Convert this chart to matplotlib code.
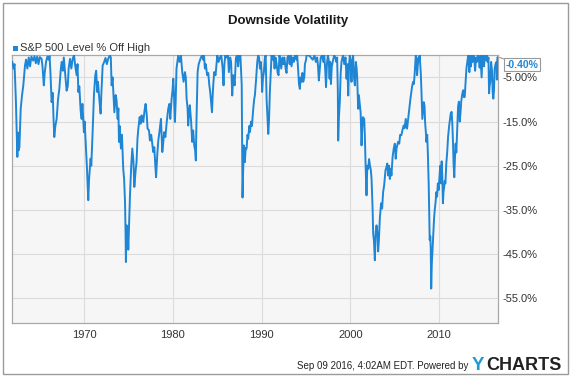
import matplotlib.pyplot as plt
from matplotlib.patches import Rectangle

plt.rcParams['font.family'] = ['Liberation Sans', 'DejaVu Sans']

# S&P 500 level, % off its running high (decimal years)
years = [
    1961.90, 1962.05, 1962.15, 1962.30, 1962.40, 1962.47, 1962.55, 1962.62, 1962.70, 1962.85,
    1963.00, 1963.14, 1963.33, 1963.45, 1963.60, 1963.75, 1963.90,
    1964.05, 1964.25, 1964.40, 1964.55, 1964.70, 1964.85,
    1965.00, 1965.20, 1965.30, 1965.45, 1965.55, 1965.70, 1965.85,
    1966.00, 1966.10, 1966.20, 1966.33, 1966.45, 1966.55, 1966.63, 1966.75, 1966.90,
    1967.05, 1967.20, 1967.35, 1967.46, 1967.60, 1967.70, 1967.85,
    1968.02, 1968.15, 1968.25, 1968.40, 1968.55, 1968.70, 1968.85,
    1969.00, 1969.15, 1969.25, 1969.34, 1969.45, 1969.60, 1969.71, 1969.80, 1969.97,
    1970.05, 1970.20, 1970.30, 1970.40, 1970.46, 1970.55, 1970.72, 1970.80, 1970.95,
    1971.10, 1971.25, 1971.35, 1971.47, 1971.55, 1971.70, 1971.85, 1971.95,
    1972.08, 1972.25, 1972.40, 1972.55, 1972.70, 1972.90,
    1973.00, 1973.09, 1973.20, 1973.40, 1973.55, 1973.65, 1973.77, 1973.85, 1973.92,
    1974.00, 1974.14, 1974.25, 1974.40, 1974.50, 1974.60, 1974.66, 1974.70, 1974.78, 1974.86, 1974.92, 1974.97,
    1975.10, 1975.16, 1975.30, 1975.42, 1975.55, 1975.65, 1975.80, 1975.90,
    1976.00, 1976.10, 1976.25, 1976.35, 1976.47, 1976.55, 1976.66, 1976.80, 1976.92,
    1977.05, 1977.14, 1977.30, 1977.41, 1977.55, 1977.70, 1977.78, 1977.90,
    1978.00, 1978.10, 1978.25, 1978.35, 1978.50, 1978.65, 1978.80, 1978.90,
    1979.00, 1979.15, 1979.30, 1979.47, 1979.60, 1979.70, 1979.85, 1979.95,
    1980.04, 1980.12, 1980.22, 1980.30, 1980.40, 1980.50, 1980.60, 1980.75, 1980.90,
    1981.05, 1981.20, 1981.35, 1981.45, 1981.54, 1981.65, 1981.72, 1981.82, 1981.90,
    1982.05, 1982.17, 1982.28, 1982.40, 1982.50, 1982.58, 1982.65, 1982.78, 1982.90,
    1983.04, 1983.15, 1983.30, 1983.40, 1983.50, 1983.60, 1983.70, 1983.85, 1983.98,
    1984.10, 1984.20, 1984.30, 1984.40, 1984.48, 1984.54, 1984.65, 1984.80,
    1985.00, 1985.15, 1985.30, 1985.45, 1985.60, 1985.70, 1985.80, 1985.90,
    1986.05, 1986.20, 1986.30, 1986.45, 1986.55, 1986.68, 1986.80, 1986.95,
    1987.10, 1987.25, 1987.35, 1987.45, 1987.60, 1987.68, 1987.75, 1987.81, 1987.84, 1987.90, 1987.99,
    1988.10, 1988.20, 1988.30, 1988.40, 1988.48, 1988.60, 1988.67, 1988.80, 1988.90,
    1989.05, 1989.15, 1989.23, 1989.35, 1989.42, 1989.50, 1989.60, 1989.70, 1989.80, 1989.90,
    1990.00, 1990.05, 1990.15, 1990.25, 1990.36, 1990.45, 1990.55, 1990.65, 1990.74, 1990.82, 1990.92,
    1991.00, 1991.11, 1991.25, 1991.35, 1991.45, 1991.55, 1991.65, 1991.80, 1991.90,
    1992.00, 1992.10, 1992.20, 1992.35, 1992.45, 1992.55, 1992.70, 1992.80, 1992.90,
    1993.05, 1993.15, 1993.25, 1993.36, 1993.50, 1993.60, 1993.75, 1993.90,
    1994.00, 1994.10, 1994.20, 1994.30, 1994.38, 1994.48, 1994.58, 1994.68, 1994.80, 1994.87,
    1995.00, 1995.05, 1995.30, 1995.55, 1995.75, 1995.95,
    1996.10, 1996.25, 1996.35, 1996.44, 1996.55, 1996.65, 1996.80, 1996.95,
    1997.05, 1997.15, 1997.25, 1997.35, 1997.45, 1997.55, 1997.65, 1997.72, 1997.80, 1997.90,
    1998.00, 1998.17, 1998.30, 1998.40, 1998.50, 1998.58, 1998.62, 1998.70, 1998.80, 1998.90, 1998.99,
    1999.10, 1999.18, 1999.30, 1999.45, 1999.56, 1999.65, 1999.75, 1999.85, 1999.93,
    2000.05, 2000.12, 2000.20, 2000.30, 2000.40, 2000.50, 2000.61, 2000.70, 2000.76, 2000.87, 2000.95,
    2001.05, 2001.15, 2001.25, 2001.32, 2001.40, 2001.55, 2001.62, 2001.70, 2001.81, 2001.90,
    2002.00, 2002.10, 2002.20, 2002.30, 2002.38, 2002.50, 2002.56, 2002.65, 2002.75, 2002.85, 2002.94,
    2003.05, 2003.12, 2003.20, 2003.31, 2003.45, 2003.57, 2003.68, 2003.80, 2003.95,
    2004.06, 2004.15, 2004.25, 2004.35, 2004.44, 2004.55, 2004.62, 2004.75, 2004.88,
    2005.00, 2005.10, 2005.20, 2005.37, 2005.50, 2005.60, 2005.74, 2005.85,
    2006.00, 2006.10, 2006.23, 2006.38, 2006.50, 2006.60, 2006.75, 2006.87, 2006.95,
    2007.06, 2007.15, 2007.25, 2007.36, 2007.45, 2007.51, 2007.60, 2007.68, 2007.73, 2007.80, 2007.92,
    2008.00, 2008.10, 2008.20, 2008.26, 2008.35, 2008.41, 2008.50, 2008.56, 2008.65, 2008.72, 2008.82, 2008.88, 2008.93,
    2009.00, 2009.05, 2009.10, 2009.17, 2009.25, 2009.33, 2009.42, 2009.50, 2009.58, 2009.68, 2009.76, 2009.85, 2009.93,
    2010.02, 2010.12, 2010.20, 2010.28, 2010.35, 2010.42, 2010.48, 2010.55, 2010.62, 2010.70, 2010.80, 2010.90,
    2011.00, 2011.12, 2011.20, 2011.30, 2011.40, 2011.48, 2011.56, 2011.62, 2011.70, 2011.78, 2011.85, 2011.93,
    2012.02, 2012.13, 2012.22, 2012.32, 2012.40, 2012.48, 2012.58, 2012.70, 2012.80, 2012.88, 2012.96,
    2013.07, 2013.20, 2013.28, 2013.40, 2013.48, 2013.58, 2013.66, 2013.76, 2013.86, 2013.95,
    2014.05, 2014.15, 2014.25, 2014.35, 2014.45, 2014.56, 2014.65, 2014.78, 2014.88, 2014.96,
    2015.05, 2015.15, 2015.25, 2015.35, 2015.45, 2015.55, 2015.62, 2015.68, 2015.75, 2015.85, 2015.95,
    2016.03, 2016.10, 2016.17, 2016.25, 2016.35, 2016.45, 2016.50, 2016.56, 2016.64,
]
off_high = [
    -1.5, -3.0, -2.0, -10.0, -18.0, -23.0, -17.5, -21.5, -20.8, -12.0,
    -9.0, -6.8, -2.3, -1.0, -3.0, -0.5, -2.5,
    -0.3, -1.2, -0.2, -1.8, -0.3, -2.0,
    -0.4, -0.8, -2.5, -6.8, -4.0, -1.5, -0.3,
    -1.0, -0.2, -4.0, -10.6, -8.5, -14.5, -18.5, -16.0, -14.4,
    -10.0, -7.6, -3.5, -1.5, -3.5, -0.5, -4.0,
    -8.0, -7.0, -3.0, -0.8, -3.0, -0.8, 0.0,
    -2.5, -4.5, -2.0, -8.3, -7.0, -12.5, -14.4, -11.0, -17.4,
    -15.0, -21.1, -25.0, -30.0, -32.8, -28.0, -23.4, -25.0, -17.4,
    -9.0, -4.5, -3.5, -8.3, -6.0, -9.8, -13.2, -8.0,
    -2.3, -1.5, -0.6, -2.0, -0.8, 0.0,
    -0.5, -6.8, -5.0, -12.9, -9.0, -10.2, -14.4, -12.0, -19.6,
    -16.0, -21.1, -18.0, -25.7, -28.0, -33.2, -40.0, -46.8, -38.5, -42.0, -41.0, -44.0,
    -35.0, -31.7, -25.0, -21.1, -24.0, -29.8, -26.0, -24.2,
    -19.0, -16.6, -14.0, -15.5, -13.6, -14.5, -15.1, -12.5, -11.0,
    -13.5, -16.6, -17.0, -19.3, -18.0, -20.5, -21.9, -20.8,
    -24.5, -27.6, -22.0, -19.3, -17.0, -14.4, -21.9, -20.0,
    -17.4, -18.5, -15.1, -12.1, -11.0, -14.4, -9.8, -8.0,
    -5.3, -9.0, -15.1, -11.0, -3.0, -1.5, 0.0, -1.5, 0.0,
    -3.8, -6.0, -3.8, -5.0, -9.8, -12.0, -15.9, -13.0, -11.3,
    -15.0, -19.6, -17.0, -20.4, -21.5, -23.8, -15.0, -3.8, -2.0,
    -1.2, -0.5, 0.0, -1.0, 0.0, -3.0, -2.0, -4.5, -4.0,
    -6.8, -8.3, -10.5, -12.9, -9.0, -6.8, -3.8, -4.5,
    0.0, -1.5, -0.5, 0.0, -3.0, -6.8, -2.0, 0.0,
    -0.5, 0.0, -3.8, -0.5, -1.5, -9.1, -4.5, -6.8,
    -0.5, 0.0, -2.5, 0.0, 0.0, -3.5, -6.8, -25.0, -32.2, -27.0, -20.4,
    -24.2, -21.0, -21.1, -18.0, -18.9, -16.0, -17.4, -15.0, -16.0,
    -12.1, -10.0, -9.1, -6.0, -3.8, -1.5, 0.0, -0.5, -3.0, -1.5,
    -4.5, -8.3, -5.0, -3.8, -0.5, 0.0, -9.8, -14.0, -17.8, -15.0, -8.3,
    -5.0, 0.0, -1.0, 0.0, -3.0, -0.5, -1.5, -4.0, -4.5,
    0.0, -1.0, -3.0, -0.5, -2.0, -0.5, -3.0, -4.0, -0.5,
    0.0, -2.0, 0.0, -2.5, -0.5, -1.5, 0.0, -1.0,
    0.0, -3.0, -6.5, -7.6, -5.0, -6.0, -4.0, -6.0, -5.0, -2.0,
    -1.0, 0.0, 0.0, -0.5, -1.0, 0.0,
    -1.5, -0.5, -2.5, -5.7, -3.0, -0.5, 0.0, -1.5,
    0.0, -3.0, -7.2, -2.0, 0.0, -1.0, -5.3, -1.5, -6.5, -2.5,
    -1.5, 0.0, -0.5, -1.5, -0.5, -8.0, -19.3, -14.0, -10.6, -4.0, -1.5,
    -0.5, 0.0, -2.0, -0.5, -5.3, -2.0, -9.1, -2.0, 0.0,
    -3.0, -6.0, -1.0, 0.0, -5.0, -6.8, -1.5, -3.0, -5.0, -12.1, -9.0,
    -11.0, -13.0, -20.4, -17.0, -14.0, -14.4, -18.0, -24.2, -31.7, -25.0,
    -25.7, -23.5, -25.0, -26.0, -28.0, -35.0, -40.3, -42.0, -46.4, -40.0, -38.5,
    -40.5, -44.4, -42.0, -37.0, -33.5, -34.7, -31.0, -29.4, -26.0,
    -25.3, -24.5, -27.2, -25.0, -28.0, -25.7, -27.2, -23.0, -21.1,
    -20.0, -23.4, -21.0, -19.6, -20.0, -18.0, -18.1, -17.0,
    -15.9, -16.5, -14.4, -16.6, -14.5, -12.9, -10.0, -8.3, -7.0,
    -6.0, -6.5, -3.8, 0.0, -1.0, -4.5, -2.0, -0.5, -1.2, 0.0, -3.8,
    -8.0, -14.4, -12.0, -10.6, -11.5, -15.1, -17.5, -19.6, -18.0, -22.0, -29.4, -37.0, -41.8,
    -41.0, -44.0, -52.8, -47.0, -44.0, -40.5, -37.0, -35.0, -33.5, -31.0, -32.0, -29.0, -30.5,
    -28.0, -25.0, -29.0, -24.0, -27.5, -33.5, -31.0, -30.0, -28.5, -29.0, -24.5, -22.0,
    -18.5, -16.0, -14.7, -13.2, -12.8, -15.5, -20.0, -24.5, -27.6, -23.0, -20.0, -22.0,
    -17.5, -11.6, -10.5, -15.0, -13.0, -10.5, -9.0, -7.9, -9.5, -9.4, -6.5,
    -3.0, -1.0, 0.0, -3.8, 0.0, -2.5, 0.0, -1.5, 0.0, -0.5,
    -3.5, -0.5, -1.5, 0.0, -0.5, -2.8, 0.0, -5.0, 0.0, -1.5,
    -2.5, 0.0, -1.0, 0.0, -1.5, -0.5, -8.6, -7.0, -6.0, -1.5, -3.5,
    -8.5, -9.8, -8.0, -3.0, -2.0, -1.5, -5.5, -0.5, -0.4,
]
assert len(years) == len(off_high)

series_name = "S&P 500 Level % Off High"
x_ticks = [1970, 1980, 1990, 2000, 2010]
y_ticks = [-5, -15, -25, -35, -45, -55]
y_tick_labels = ["-5.00%", "-15.0%", "-25.0%", "-35.0%", "-45.0%", "-55.0%"]
last_label = "-0.40%"

BLUE = "#1f86d6"
W, H = 573, 378

fig = plt.figure(figsize=(W / 100, H / 100), dpi=100)
fig.patch.set_facecolor("white")

# plot area in pixel coords: x 12..498, y 55..323
ax = fig.add_axes([12.3 / W, 1 - 323 / H, (498.3 - 12.3) / W, (323 - 55.3) / H])
ax.set_facecolor("#f6f6f6")
ax.plot(years, off_high, color=BLUE, lw=1.4, solid_joinstyle="round", zorder=3)

ax.set_xlim(1961.9, 2016.66)
ax.set_ylim(-60.6, 0)
ax.set_xticks(x_ticks)
ax.set_xticklabels([str(t) for t in x_ticks])
ax.set_yticks(y_ticks)
ax.set_yticklabels(y_tick_labels)
ax.yaxis.tick_right()
ax.tick_params(length=0, labelsize=8, colors="#333333")
ax.tick_params(axis="y", pad=3)
ax.tick_params(axis="x", pad=5)
ax.grid(True, color="#dcdcdc", lw=0.8, zorder=0)
for s in ax.spines.values():
    s.set_color("#a8a8a8")
    s.set_linewidth(0.9)

# last value callout
ax.annotate(last_label, xy=(years[-1], off_high[-1]), xytext=(5.5, -5.5),
            textcoords="offset points", ha="left", va="center",
            fontsize=7.5, fontweight="bold", color=BLUE,
            bbox=dict(boxstyle="square,pad=0.15", fc="white", ec="#999999", lw=0.8),
            arrowprops=dict(arrowstyle="-", color="#999999", lw=0.8,
                            shrinkA=0, shrinkB=1),
            annotation_clip=False, zorder=5)

# title and legend
fig.text(288 / W, 1 - 21 / H, "Downside Volatility", ha="center", va="center",
         fontsize=9.5, fontweight="bold", color="#1a1a1a")
fig.add_artist(Rectangle((12.5 / W, 1 - 51 / H), 5.5 / W, 5.5 / H,
                         transform=fig.transFigure, color=BLUE, lw=0))
fig.text(20.5 / W, 1 - 48 / H, series_name, ha="left", va="center",
         fontsize=8, color="#333333")

# footer
fig.text(468 / W, 1 - 366 / H, "Sep 09 2016, 4:02AM EDT. Powered by",
         ha="right", va="center", fontsize=7, color="#222222")
fig.text(472 / W, 1 - 365 / H, "Y", ha="left", va="center",
         fontsize=13.5, fontweight="bold", color="#1e9ad6")
fig.text(486 / W, 1 - 365 / H, "CHARTS", ha="left", va="center",
         fontsize=13, fontweight="bold", color="#222222")

# outer frame
fig.add_artist(Rectangle((3 / W, 1 - 374 / H), 565 / W, 371 / H,
                         transform=fig.transFigure, fill=False,
                         ec="#9a9a9a", lw=1))

fig.savefig("out.png", dpi=100)
